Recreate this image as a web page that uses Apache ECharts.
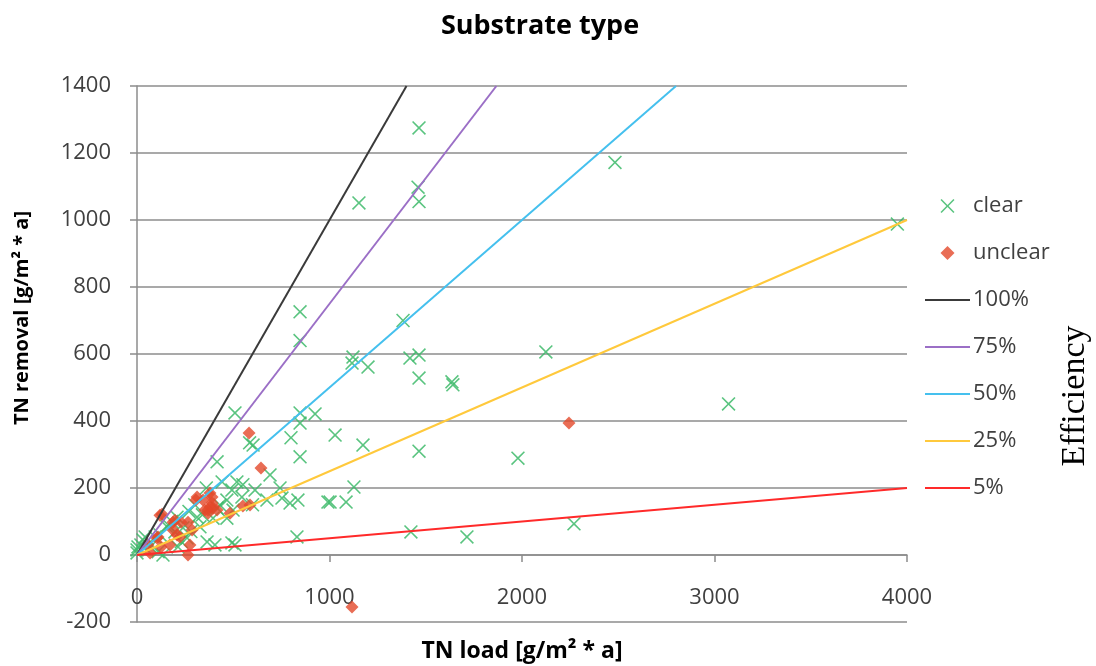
<!DOCTYPE html>
<html>
<head>
<meta charset="utf-8">
<script src="https://cdn.jsdelivr.net/npm/echarts@6/dist/echarts.min.js"></script>
<style>
  html, body { margin: 0; padding: 0; background: #fff; }
  #container { width: 1096px; height: 666px; }
</style>
</head>
<body>
<div id="container"></div>
<script>
// clear points [TN load, TN removal]
var clearLoad = [1465, 2483, 3950, 1153, 1460, 1465, 1382, 847, 847, 1122, 1117, 1200, 1418, 1465, 1465, 1636, 1641, 2124,
  1029, 1174, 1465, 1979, 3073, 1127, 1086, 1003, 1423, 1714, 2270, 831, 509, 847, 925, 847, 800, 847, 603, 585, 416,
  691, 442, 519, 550, 493, 613, 743, 753, 545, 836, 992, 467, 675, 795, 416, 467, 499, 395, 431, 405, 509, 312, 239,
  156, 94, 31, 5, 0, 364, 493, 213, 135, 208, 327, 260, 197, 161, 42, 0, 52, 20, 70, 110, 270, 300, 360, 340, 280,
  120, 230, 180, 600];
var clearRemoval = [1275, 1172, 988, 1051, 1098, 1055, 700, 726, 640, 591, 573, 561, 588, 597, 528, 517, 508, 606,
  358, 328, 310, 289, 451, 203, 158, 158, 69, 54, 93, 54, 424, 424, 421, 394, 350, 293, 328, 335, 278,
  239, 218, 218, 210, 194, 194, 200, 170, 173, 164, 158, 164, 164, 155, 140, 110, 134, 110, 149, 30, 30, 113, 81,
  84, 54, 45, 24, 6, 39, 36, 24, 0, 113, 84, 51, 69, 90, 54, 15, 15, 30, 25, 10, 130, 150, 200, 120, 70,
  60, 40, 100, 150];

// unclear points
var unclearLoad = [582, 644, 1117, 2244, 312, 379, 390, 343, 416, 369, 483, 390, 550, 587, 119, 130, 187, 265, 229,
  286, 208, 223, 171, 104, 109, 68, 265, 379, 369, 197, 187, 306, 353, 395, 57, 125, 275];
var unclearRemoval = [364, 260, -155, 394, 173, 185, 173, 164, 134, 125, 125, 155, 146, 149, 119, 122, 98, 98, 98,
  75, 60, 54, 30, 51, 54, 6, 0, 143, 134, 104, 75, 164, 134, 140, 30, 24, 30];

// efficiency reference lines: start and end points
var effNames = ['100%', '75%', '50%', '25%', '5%'];
var effLoadEnd = [1400, 1867, 2800, 4000, 4000];
var effRemovalEnd = [1400, 1400, 1400, 1000, 200];
var effColors = ['#3a3a3a', '#9b6fc6', '#45c0ee', '#ffc93c', '#ff2a2a'];

var xTicks = [0, 1000, 2000, 3000, 4000];
var yTicks = [-200, 0, 200, 400, 600, 800, 1000, 1200, 1400];

var crossPath = 'path://M0,0.8L0.8,0L5,4.2L9.2,0L10,0.8L5.8,5L10,9.2L9.2,10L5,5.8L0.8,10L0,9.2L4.2,5Z';
var diamondPath = 'path://M5,0L10,5L5,10L0,5Z';
var lineIcon = 'path://M0,0L45,0L45,2L0,2Z';

function pairs(xs, ys) {
  var out = [];
  for (var i = 0; i < xs.length; i++) out.push([xs[i], ys[i]]);
  return out;
}

var series = [
  {
    name: 'clear', type: 'scatter', symbol: crossPath, symbolSize: 14,
    itemStyle: { color: '#3dba6a', opacity: 0.85 },
    data: pairs(clearLoad, clearRemoval), z: 3
  },
  {
    name: 'unclear', type: 'scatter', symbol: diamondPath, symbolSize: 13,
    itemStyle: { color: '#e4482a' },
    data: pairs(unclearLoad, unclearRemoval), z: 4
  }
];
var legendData = [{ name: 'clear' }, { name: 'unclear' }];
for (var i = 0; i < effNames.length; i++) {
  series.push({
    name: effNames[i], type: 'line', symbol: 'none', silent: true,
    lineStyle: { color: effColors[i], width: 2 },
    itemStyle: { color: effColors[i] },
    data: [[0, 0], [effLoadEnd[i], effRemovalEnd[i]]], z: 5
  });
  legendData.push({ name: effNames[i], icon: lineIcon });
}

var font = 'Open Sans';
// x axis sits on the y = 0 line, 67 px above the bottom of the plot
var option = {
  animation: false,
  grid: { left: 137, right: 189, top: 86, bottom: 44, containLabel: false, outerBoundsMode: 'none' },
  title: {
    text: 'Substrate type', left: 535, top: 8, textAlign: 'center',
    textStyle: { fontFamily: font, fontWeight: 'bold', fontSize: 27, color: '#000' }
  },
  legend: {
    orient: 'vertical', left: 920, top: 190, itemGap: 25,
    itemWidth: 45, itemHeight: 14,
    textStyle: { fontFamily: font, fontSize: 22, color: '#404040', padding: [0, 0, 0, -2] },
    data: legendData
  },
  xAxis: {
    type: 'value', min: xTicks[0], max: xTicks[xTicks.length - 1], interval: 1000,
    offset: -67,
    name: 'TN load [g/m² * a]', nameLocation: 'middle', nameGap: 85,
    nameTextStyle: { fontFamily: font, fontWeight: 'bold', fontSize: 23, color: '#000' },
    axisLine: { onZero: false, lineStyle: { color: '#8c8c8c', width: 1.5 } },
    axisTick: { show: true, length: 7, lineStyle: { color: '#8c8c8c', width: 1.5 } },
    axisLabel: { margin: 32, fontFamily: font, fontSize: 22, color: '#404040',
      formatter: function (v) { return String(v); } },
    splitLine: { show: false }
  },
  yAxis: {
    type: 'value', min: yTicks[0], max: yTicks[yTicks.length - 1], interval: 200,
    axisLine: { show: true, onZero: false, lineStyle: { color: '#8c8c8c', width: 1.5 } },
    axisTick: { show: true, length: 7, lineStyle: { color: '#8c8c8c', width: 1.5 } },
    axisLabel: { margin: 26, fontFamily: font, fontSize: 22, color: '#404040',
      formatter: function (v) { return String(v); } },
    splitLine: { show: true, lineStyle: { color: '#8c8c8c', width: 1.5 } }
  },
  graphic: [
    {
      type: 'text', x: 22, y: 318, rotation: Math.PI / 2,
      style: {
        text: 'TN removal [g/m² * a]', align: 'center', verticalAlign: 'middle',
        font: 'bold 20px "Open Sans"', fill: '#000'
      }
    },
    {
      type: 'text', x: 1075, y: 396, rotation: Math.PI / 2,
      style: {
        text: 'Efficiency', align: 'center', verticalAlign: 'middle',
        font: '34px "Liberation Serif"', fill: '#000'
      }
    }
  ],
  series: series
};

var myChart = echarts.init(document.getElementById('container'));
myChart.setOption(option);
</script>
</body>
</html>
